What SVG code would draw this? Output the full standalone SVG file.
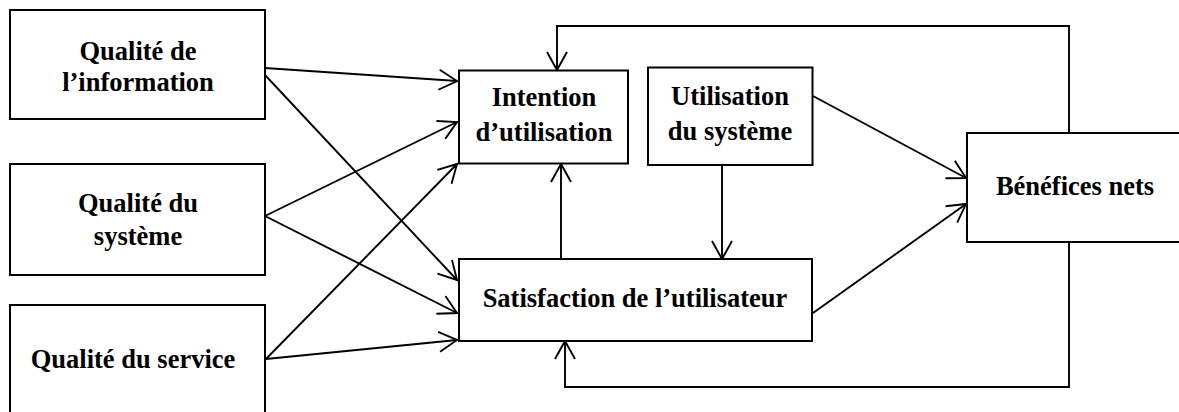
<svg xmlns="http://www.w3.org/2000/svg" width="1179" height="412" viewBox="0 0 1179 412">
  <style>
    .box { fill: #ffffff; stroke: #000000; stroke-width: 2; }
    .lbl { font-family: "Liberation Serif", "Times New Roman", serif; font-weight: bold; font-size: 26.5px; fill: #000000; text-anchor: middle; }
    .link { fill: none; stroke: #000000; stroke-width: 1.9; }
  </style>
  <defs>
    <marker id="arrow" viewBox="0 0 22 22" refX="20" refY="11" markerWidth="22" markerHeight="22" markerUnits="userSpaceOnUse" orient="auto">
      <path d="M2,1 L20,11 L2,21" fill="none" stroke="#000000" stroke-width="1.9"/>
    </marker>
  </defs>
  <rect width="1179" height="412" fill="#ffffff"/>

  <g id="connectors">
    <!-- Qualité de l'information -->
    <line class="link" x1="265" y1="68" x2="457" y2="81" marker-end="url(#arrow)"/>
    <line class="link" x1="265" y1="75" x2="457" y2="280" marker-end="url(#arrow)"/>
    <!-- Qualité du système -->
    <line class="link" x1="265" y1="216" x2="457" y2="122" marker-end="url(#arrow)"/>
    <line class="link" x1="265" y1="216" x2="457" y2="313" marker-end="url(#arrow)"/>
    <!-- Qualité du service -->
    <line class="link" x1="266" y1="359" x2="457" y2="164" marker-end="url(#arrow)"/>
    <line class="link" x1="266" y1="359" x2="457" y2="340" marker-end="url(#arrow)"/>
    <!-- Satisfaction -> Intention -->
    <line class="link" x1="561" y1="259" x2="561" y2="164" marker-end="url(#arrow)"/>
    <!-- Utilisation -> Satisfaction -->
    <line class="link" x1="722" y1="165" x2="722" y2="259" marker-end="url(#arrow)"/>
    <!-- Utilisation / Satisfaction -> Bénéfices nets -->
    <line class="link" x1="813" y1="96" x2="966" y2="178" marker-end="url(#arrow)"/>
    <line class="link" x1="813" y1="313" x2="966" y2="204" marker-end="url(#arrow)"/>
    <!-- feedback loops from Bénéfices nets -->
    <polyline class="link" points="1069,133 1069,26 557,26 557,70" marker-end="url(#arrow)"/>
    <polyline class="link" points="1069,242 1069,387 565,387 565,341" marker-end="url(#arrow)"/>
  </g>

  <g id="qualite-information">
    <rect class="box" x="10" y="10" width="255" height="109"/>
    <text class="lbl" x="138" y="60">Qualité de</text>
    <text class="lbl" x="138" y="91">l’information</text>
  </g>

  <g id="qualite-systeme">
    <rect class="box" x="10" y="164" width="255" height="111"/>
    <text class="lbl" x="138" y="212">Qualité du</text>
    <text class="lbl" x="138" y="245">système</text>
  </g>

  <g id="qualite-service">
    <rect class="box" x="10" y="305" width="255" height="120"/>
    <text class="lbl" x="133" y="368">Qualité du service</text>
  </g>

  <g id="intention-utilisation">
    <rect class="box" x="459" y="70.5" width="169" height="93"/>
    <text class="lbl" x="544" y="106">Intention</text>
    <text class="lbl" x="544" y="140.5">d’utilisation</text>
  </g>

  <g id="utilisation-systeme">
    <rect class="box" x="648" y="67.5" width="164.5" height="97.5"/>
    <text class="lbl" x="730" y="105">Utilisation</text>
    <text class="lbl" x="730" y="139.5">du système</text>
  </g>

  <g id="satisfaction-utilisateur">
    <rect class="box" x="459" y="259" width="353" height="82"/>
    <text class="lbl" x="635" y="307">Satisfaction de l’utilisateur</text>
  </g>

  <g id="benefices-nets">
    <rect class="box" x="967" y="133" width="230" height="109"/>
    <text class="lbl" x="1075" y="195">Bénéfices nets</text>
  </g>
</svg>
